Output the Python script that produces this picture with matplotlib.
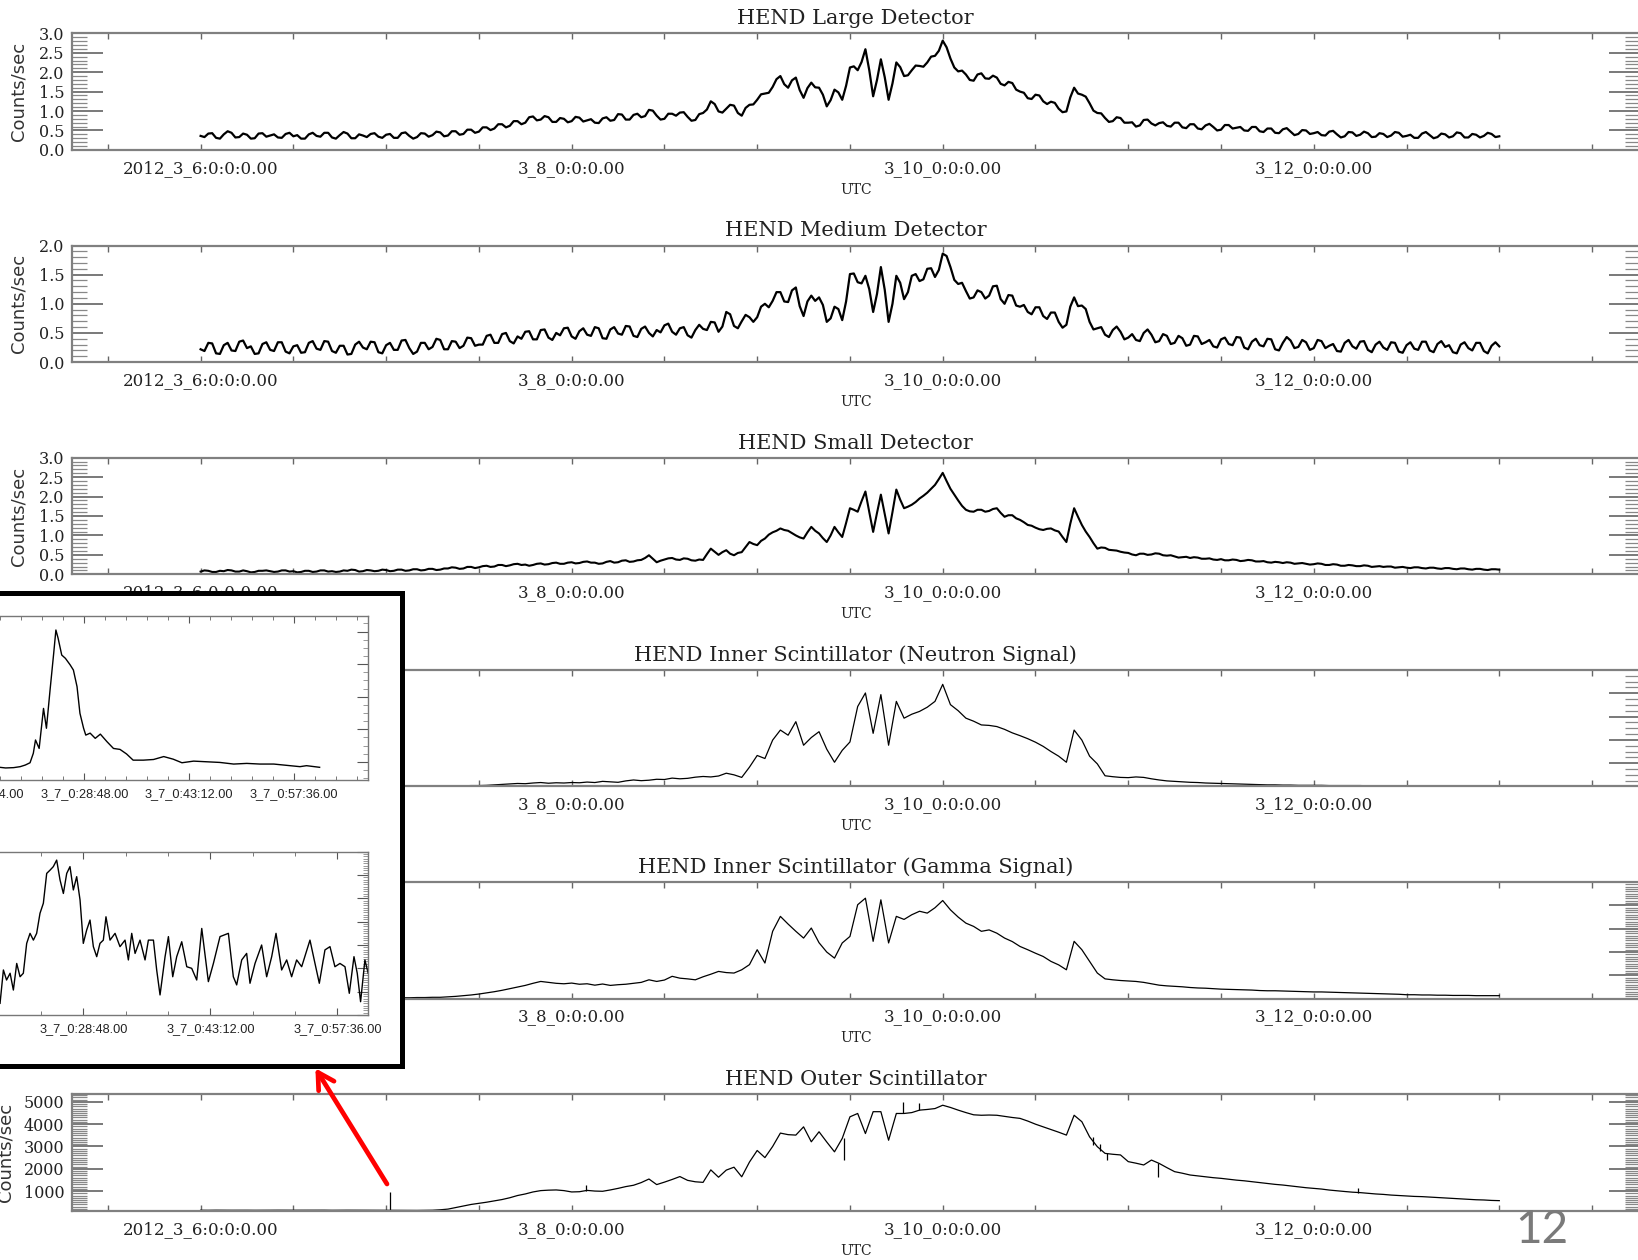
import numpy as np
import matplotlib
matplotlib.use("Agg")
import matplotlib.pyplot as plt
from matplotlib.ticker import MultipleLocator, FormatStrFormatter
from matplotlib.patches import FancyArrowPatch

# hours after 2012-03-06 00:00 UTC, one reading per hour (plus half-hour readings
# for the three noisy HEND detectors)
hours = np.arange(0, 169)

large = [0.36, 0.42, 0.31, 0.40, 0.44, 0.33, 0.39, 0.30, 0.43, 0.37, 0.32, 0.41,
         0.35, 0.29, 0.40, 0.36, 0.44, 0.32, 0.38, 0.42, 0.30, 0.37, 0.41, 0.34,
         0.39, 0.31, 0.43, 0.36, 0.33, 0.42, 0.38, 0.45, 0.37, 0.48, 0.41, 0.52,
         0.47, 0.58, 0.55, 0.66, 0.62, 0.74, 0.70, 0.86, 0.78, 0.84, 0.72, 0.80,
         0.74, 0.83, 0.76, 0.70, 0.81, 0.75, 0.92, 0.78, 0.90, 0.84, 1.03, 0.88,
         0.80, 0.93, 0.96, 0.85, 0.77, 0.95, 1.25, 0.99, 1.06, 1.14, 0.88, 1.16,
         1.29, 1.45, 1.62, 1.90, 1.60, 1.86, 1.34, 1.73, 1.60, 1.12, 1.55, 1.29,
         2.12, 2.05, 2.59, 1.38, 2.33, 1.29, 2.25, 1.90, 2.05, 2.16, 2.25, 2.42,
         2.81, 2.35, 2.02, 1.94, 1.78, 1.97, 1.83, 1.86, 1.66, 1.72, 1.50, 1.33,
         1.42, 1.25, 1.24, 1.06, 0.99, 1.60, 1.42, 1.20, 0.95, 0.82, 0.74, 0.82,
         0.70, 0.60, 0.77, 0.68, 0.69, 0.62, 0.70, 0.58, 0.66, 0.55, 0.63, 0.59,
         0.52, 0.64, 0.57, 0.50, 0.59, 0.48, 0.55, 0.44, 0.53, 0.47, 0.41, 0.50,
         0.43, 0.38, 0.47, 0.40, 0.35, 0.45, 0.39, 0.43, 0.34, 0.41, 0.37, 0.44,
         0.36, 0.31, 0.42, 0.38, 0.33, 0.40, 0.35, 0.43, 0.32, 0.39, 0.36, 0.41,
         0.35]
large_half = [0.33, 0.43, 0.29, 0.48, 0.32, 0.42, 0.29, 0.42, 0.34, 0.40, 0.31, 0.44,
              0.38, 0.29, 0.44, 0.34, 0.44, 0.29, 0.46, 0.30, 0.40, 0.33, 0.43, 0.31,
              0.41, 0.31, 0.45, 0.29, 0.43, 0.34, 0.47, 0.35, 0.48, 0.39, 0.52, 0.44,
              0.58, 0.51, 0.66, 0.58, 0.74, 0.66, 0.84, 0.76, 0.87, 0.72, 0.82, 0.71,
              0.85, 0.73, 0.79, 0.69, 0.84, 0.77, 0.91, 0.78, 0.93, 0.87, 1.01, 0.78,
              0.93, 0.88, 0.97, 0.75, 0.92, 1.04, 1.18, 0.96, 1.16, 0.95, 1.08, 1.17,
              1.43, 1.47, 1.82, 1.69, 1.79, 1.54, 1.59, 1.61, 1.42, 1.28, 1.48, 1.65,
              2.15, 2.26, 2.05, 1.80, 1.87, 1.71, 2.13, 1.92, 2.17, 2.14, 2.40, 2.55,
              2.64, 2.12, 2.04, 1.80, 1.94, 1.84, 1.91, 1.70, 1.75, 1.55, 1.47, 1.31,
              1.40, 1.18, 1.21, 0.97, 1.35, 1.45, 1.37, 1.01, 0.94, 0.72, 0.84, 0.70,
              0.71, 0.63, 0.78, 0.63, 0.71, 0.60, 0.70, 0.56, 0.66, 0.53, 0.67, 0.50,
              0.64, 0.55, 0.59, 0.49, 0.59, 0.46, 0.55, 0.43, 0.56, 0.38, 0.51, 0.41,
              0.46, 0.37, 0.49, 0.32, 0.46, 0.36, 0.47, 0.33, 0.43, 0.33, 0.46, 0.34,
              0.39, 0.31, 0.46, 0.30, 0.42, 0.32, 0.45, 0.32, 0.41, 0.32, 0.44, 0.33]

medium = [0.22, 0.33, 0.15, 0.29, 0.20, 0.35, 0.24, 0.14, 0.31, 0.21, 0.34, 0.18,
          0.27, 0.16, 0.33, 0.23, 0.36, 0.19, 0.28, 0.13, 0.30, 0.25, 0.35, 0.17,
          0.29, 0.21, 0.37, 0.24, 0.18, 0.33, 0.26, 0.38, 0.22, 0.35, 0.28, 0.41,
          0.30, 0.45, 0.33, 0.48, 0.36, 0.44, 0.52, 0.39, 0.55, 0.42, 0.50, 0.58,
          0.44, 0.53, 0.47, 0.60, 0.41, 0.56, 0.49, 0.62, 0.45, 0.57, 0.50, 0.55,
          0.63, 0.52, 0.58, 0.46, 0.55, 0.57, 0.69, 0.52, 0.86, 0.62, 0.70, 0.77,
          0.77, 1.00, 1.05, 1.20, 1.03, 1.28, 0.79, 1.14, 1.11, 0.69, 0.95, 0.72,
          1.51, 1.37, 1.48, 0.86, 1.63, 0.69, 1.48, 1.08, 1.48, 1.39, 1.60, 1.46,
          1.86, 1.63, 1.34, 1.22, 1.11, 1.20, 1.14, 1.31, 1.00, 1.14, 0.95, 0.86,
          0.94, 0.79, 0.85, 0.69, 0.64, 1.11, 0.97, 0.69, 0.58, 0.47, 0.55, 0.52,
          0.42, 0.38, 0.50, 0.47, 0.36, 0.45, 0.33, 0.41, 0.30, 0.44, 0.34, 0.27,
          0.39, 0.31, 0.43, 0.25, 0.35, 0.29, 0.40, 0.22, 0.33, 0.37, 0.26, 0.34,
          0.24, 0.36, 0.28, 0.19, 0.33, 0.27, 0.35, 0.21, 0.30, 0.25, 0.34, 0.18,
          0.29, 0.23, 0.35, 0.20, 0.31, 0.26, 0.17, 0.30, 0.24, 0.33, 0.19, 0.28,
          0.27]
medium_half = [0.19, 0.32, 0.14, 0.33, 0.19, 0.37, 0.27, 0.15, 0.34, 0.19, 0.34, 0.15,
               0.29, 0.17, 0.36, 0.21, 0.35, 0.16, 0.28, 0.14, 0.35, 0.22, 0.34, 0.15,
               0.33, 0.21, 0.38, 0.14, 0.33, 0.22, 0.40, 0.22, 0.36, 0.24, 0.42, 0.28,
               0.30, 0.47, 0.33, 0.50, 0.32, 0.40, 0.53, 0.39, 0.56, 0.38, 0.46, 0.59,
               0.40, 0.58, 0.45, 0.58, 0.40, 0.60, 0.47, 0.61, 0.43, 0.61, 0.44, 0.51,
               0.66, 0.47, 0.60, 0.42, 0.64, 0.55, 0.68, 0.61, 0.82, 0.58, 0.81, 0.69,
               0.95, 0.94, 1.20, 1.04, 1.23, 0.96, 1.04, 1.05, 0.98, 0.75, 0.91, 1.04,
               1.52, 1.35, 1.25, 1.17, 1.24, 1.00, 1.36, 1.20, 1.51, 1.42, 1.61, 1.58,
               1.82, 1.41, 1.36, 1.09, 1.23, 1.09, 1.30, 1.08, 1.15, 0.97, 0.98, 0.82,
               0.94, 0.74, 0.85, 0.59, 0.95, 0.96, 0.91, 0.56, 0.60, 0.43, 0.61, 0.39,
               0.48, 0.36, 0.56, 0.34, 0.48, 0.31, 0.45, 0.28, 0.45, 0.31, 0.38, 0.25,
               0.42, 0.29, 0.42, 0.22, 0.40, 0.27, 0.39, 0.20, 0.43, 0.24, 0.38, 0.21,
               0.38, 0.24, 0.31, 0.18, 0.38, 0.23, 0.36, 0.17, 0.35, 0.21, 0.33, 0.16,
               0.34, 0.21, 0.35, 0.17, 0.36, 0.29, 0.15, 0.34, 0.20, 0.33, 0.15, 0.34]

small = [0.07, 0.09, 0.06, 0.08, 0.10, 0.07, 0.08, 0.06, 0.09, 0.08, 0.07, 0.10,
         0.08, 0.06, 0.09, 0.07, 0.10, 0.08, 0.07, 0.09, 0.11, 0.08, 0.10, 0.09,
         0.11, 0.09, 0.12, 0.10, 0.13, 0.11, 0.14, 0.12, 0.15, 0.17, 0.15, 0.19,
         0.18, 0.22, 0.20, 0.24, 0.23, 0.27, 0.25, 0.24, 0.28, 0.26, 0.30, 0.27,
         0.31, 0.29, 0.33, 0.30, 0.28, 0.34, 0.31, 0.36, 0.33, 0.37, 0.49, 0.31,
         0.38, 0.42, 0.37, 0.40, 0.35, 0.37, 0.66, 0.50, 0.62, 0.49, 0.57, 0.83,
         0.75, 0.92, 1.08, 1.18, 1.12, 1.00, 0.92, 1.22, 1.05, 0.83, 1.22, 0.96,
         1.70, 1.61, 2.13, 1.09, 2.05, 1.05, 2.18, 1.70, 1.79, 1.95, 2.10, 2.30,
         2.61, 2.20, 1.90, 1.66, 1.61, 1.66, 1.63, 1.70, 1.48, 1.52, 1.40, 1.27,
         1.20, 1.14, 1.18, 1.10, 0.83, 1.70, 1.27, 0.96, 0.66, 0.68, 0.62, 0.58,
         0.55, 0.49, 0.53, 0.51, 0.53, 0.48, 0.46, 0.44, 0.42, 0.43, 0.40, 0.38,
         0.39, 0.36, 0.37, 0.35, 0.36, 0.33, 0.31, 0.32, 0.29, 0.30, 0.28, 0.27,
         0.26, 0.27, 0.24, 0.25, 0.22, 0.23, 0.21, 0.22, 0.20, 0.19, 0.20, 0.18,
         0.17, 0.18, 0.16, 0.17, 0.15, 0.16, 0.14, 0.15, 0.13, 0.14, 0.12, 0.13,
         0.12]
small_half = [0.10, 0.06, 0.09, 0.11, 0.07, 0.10, 0.05, 0.09, 0.10, 0.06, 0.10, 0.07,
              0.05, 0.09, 0.06, 0.10, 0.07, 0.06, 0.10, 0.12, 0.07, 0.11, 0.08, 0.12,
              0.08, 0.12, 0.09, 0.13, 0.10, 0.14, 0.11, 0.15, 0.18, 0.14, 0.19, 0.16,
              0.21, 0.19, 0.24, 0.21, 0.26, 0.24, 0.22, 0.27, 0.25, 0.29, 0.27, 0.30,
              0.28, 0.32, 0.30, 0.27, 0.32, 0.30, 0.35, 0.32, 0.36, 0.42, 0.40, 0.35,
              0.41, 0.38, 0.41, 0.36, 0.38, 0.52, 0.58, 0.57, 0.53, 0.55, 0.70, 0.78,
              0.86, 1.02, 1.12, 1.14, 1.06, 0.95, 1.08, 1.12, 0.93, 1.00, 1.08, 1.32,
              1.66, 1.88, 1.60, 1.58, 1.55, 1.60, 1.92, 1.74, 1.86, 2.02, 2.20, 2.45,
              2.40, 2.05, 1.76, 1.62, 1.66, 1.61, 1.68, 1.58, 1.52, 1.44, 1.34, 1.25,
              1.16, 1.17, 1.13, 0.96, 1.30, 1.48, 1.10, 0.80, 0.69, 0.63, 0.61, 0.56,
              0.51, 0.53, 0.50, 0.54, 0.49, 0.49, 0.43, 0.45, 0.44, 0.40, 0.41, 0.37,
              0.36, 0.38, 0.34, 0.37, 0.33, 0.34, 0.30, 0.31, 0.31, 0.27, 0.29, 0.25,
              0.28, 0.24, 0.26, 0.22, 0.24, 0.21, 0.23, 0.19, 0.21, 0.20, 0.17, 0.19,
              0.16, 0.18, 0.15, 0.17, 0.14, 0.16, 0.13, 0.15, 0.12, 0.14, 0.11, 0.13]

neutron = [0.00, 0.00, 0.00, 0.00, 0.00, 0.00, 0.00, 0.00, 0.00, 0.00, 0.00, 0.00,
           0.00, 0.00, 0.00, 0.00, 0.00, 0.00, 0.00, 0.00, 0.00, 0.00, 0.00, 0.00,
           0.00, 0.00, 0.01, 0.01, 0.01, 0.02, 0.02, 0.02, 0.03, 0.02, 0.03, 0.04,
           0.04, 0.05, 0.07, 0.09, 0.11, 0.13, 0.12, 0.15, 0.17, 0.14, 0.16, 0.15,
           0.17, 0.16, 0.19, 0.17, 0.22, 0.20, 0.18, 0.24, 0.28, 0.25, 0.27, 0.31,
           0.30, 0.36, 0.33, 0.35, 0.40, 0.43, 0.41, 0.45, 0.57, 0.50, 0.39, 0.83,
           1.33, 1.20, 1.99, 2.42, 2.20, 2.78, 1.77, 2.10, 2.35, 1.60, 1.04, 1.55,
           1.91, 3.43, 4.01, 2.28, 3.94, 1.77, 3.65, 2.93, 3.10, 3.22, 3.40, 3.65,
           4.38, 3.51, 3.25, 2.93, 2.80, 2.64, 2.62, 2.57, 2.45, 2.30, 2.18, 2.05,
           1.90, 1.72, 1.50, 1.30, 1.04, 2.42, 1.99, 1.30, 0.97, 0.46, 0.42, 0.39,
           0.38, 0.41, 0.39, 0.33, 0.28, 0.24, 0.22, 0.20, 0.18, 0.17, 0.15, 0.14,
           0.13, 0.12, 0.11, 0.10, 0.09, 0.08, 0.07, 0.07, 0.06, 0.06, 0.05, 0.05,
           0.05, 0.05, 0.04, 0.04, 0.04, 0.04, 0.04, 0.03, 0.03, 0.03, 0.03, 0.03,
           0.03, 0.03, 0.02, 0.02, 0.02, 0.02, 0.02, 0.01, 0.01, 0.01, 0.01, 0.01,
           0.01]

gamma = [0.03, 0.03, 0.03, 0.03, 0.03, 0.03, 0.03, 0.03, 0.03, 0.03, 0.03, 0.03,
         0.03, 0.03, 0.03, 0.03, 0.03, 0.03, 0.03, 0.03, 0.03, 0.03, 0.03, 0.03,
         0.03, 0.03, 0.04, 0.04, 0.05, 0.05, 0.06, 0.06, 0.08, 0.10, 0.13, 0.16,
         0.20, 0.25, 0.30, 0.36, 0.43, 0.50, 0.57, 0.66, 0.74, 0.70, 0.66, 0.64,
         0.67, 0.62, 0.64, 0.58, 0.63, 0.57, 0.60, 0.62, 0.66, 0.70, 0.81, 0.74,
         0.80, 0.96, 0.88, 0.85, 0.81, 0.94, 1.05, 1.17, 1.12, 1.10, 1.24, 1.46,
         2.10, 1.53, 2.89, 3.53, 3.20, 2.89, 2.60, 3.03, 2.40, 2.00, 1.74, 2.39,
         2.67, 4.03, 4.31, 2.46, 4.24, 2.39, 3.53, 3.40, 3.60, 3.75, 3.67, 3.90,
         4.21, 3.81, 3.50, 3.24, 3.10, 2.89, 2.95, 2.81, 2.60, 2.45, 2.24, 2.10,
         1.95, 1.81, 1.60, 1.45, 1.24, 2.46, 2.10, 1.60, 1.10, 0.85, 0.81, 0.78,
         0.76, 0.74, 0.70, 0.64, 0.58, 0.55, 0.53, 0.51, 0.48, 0.46, 0.45, 0.43,
         0.41, 0.40, 0.39, 0.38, 0.37, 0.35, 0.34, 0.34, 0.33, 0.32, 0.31, 0.30,
         0.29, 0.29, 0.28, 0.27, 0.26, 0.25, 0.24, 0.23, 0.22, 0.21, 0.20, 0.19,
         0.17, 0.17, 0.16, 0.16, 0.15, 0.15, 0.14, 0.14, 0.14, 0.13, 0.13, 0.13,
         0.13]

outer = [140, 138, 142, 140, 139, 141, 140, 138, 141, 140, 142, 139,
         140, 141, 139, 140, 142, 138, 140, 141, 139, 140, 141, 138,
         136, 130, 128, 130, 132, 135, 140, 160, 190, 260, 330, 400,
         450, 500, 560, 620, 700, 800, 870, 960, 1020, 1040, 1050, 1020,
         960, 970, 1030, 1000, 990, 1050, 1120, 1200, 1260, 1380, 1540, 1290,
         1400, 1520, 1650, 1480, 1416, 1390, 1950, 1620, 1940, 2070, 1640, 2300,
         2820, 2500, 3000, 3600, 3530, 3510, 3880, 3210, 3660, 3200, 2760, 3360,
         4330, 4480, 3580, 4560, 4560, 3280, 4480, 4480, 4520, 4630, 4660, 4700,
         4850, 4750, 4630, 4520, 4420, 4400, 4410, 4400, 4350, 4300, 4260, 4140,
         4000, 3880, 3760, 3640, 3510, 4400, 4110, 3430, 2990, 2690, 2650, 2620,
         2320, 2250, 2170, 2390, 2240, 2050, 1870, 1800, 1720, 1680, 1640, 1600,
         1570, 1530, 1490, 1460, 1420, 1380, 1340, 1300, 1270, 1230, 1190, 1150,
         1120, 1090, 1045, 1010, 980, 950, 930, 900, 870, 850, 820, 800,
         780, 760, 750, 730, 710, 690, 670, 650, 630, 610, 600, 580,
         570]

# single-sample spikes in the outer scintillator (hour, from, to)
spike_hour = [24.5, 49.8, 83.2, 90.9, 92.9, 115.4, 116.3, 117.3, 123.8, 149.7]
spike_from = [135, 990, 2390, 4480, 4620, 3050, 2800, 2400, 1640, 930]
spike_to = [970, 1250, 3360, 4980, 4950, 3430, 3100, 2700, 2240, 1120]

# zoom on the 3_7 00:00-01:00 event (minutes after 3_7 00:00)
zoomA_min = [14.0, 15.0, 16.0, 17.2, 18.0, 19.1, 20.0, 20.7, 21.35, 21.8,
             22.1, 22.6, 23.2, 23.6, 24.1, 24.6, 24.9, 25.2, 25.7, 26.2,
             26.85, 27.3, 27.8, 28.2, 28.7, 29.0, 29.6, 30.3, 31.0, 31.9,
             32.8, 33.7, 34.6, 35.5, 36.9, 38.3, 39.7, 41.0, 42.2, 43.8,
             45.6, 47.4, 49.3, 51.1, 52.9, 54.8, 56.6, 58.4, 59.3, 61.1]
zoomA_val = [0.84, 0.82, 0.85, 0.83, 0.81, 0.82, 0.85, 0.90, 0.97, 1.26,
             1.67, 1.41, 2.64, 2.03, 3.21, 4.34, 5.05, 4.80, 4.28, 4.18,
             3.98, 3.82, 3.31, 2.49, 2.03, 1.82, 1.88, 1.72, 1.85, 1.62,
             1.41, 1.38, 1.24, 1.05, 1.05, 1.07, 1.16, 1.08, 0.97, 1.02,
             1.00, 0.98, 0.93, 0.95, 0.93, 0.93, 0.89, 0.85, 0.88, 0.83]

zoomB_min = [19.36, 19.74, 20.1, 20.5, 20.87, 21.25, 21.63, 22.0, 22.38, 22.76,
             23.14, 23.51, 23.89, 24.27, 24.65, 25.03, 25.4, 25.78, 26.16, 26.54,
             26.92, 27.29, 27.67, 28.05, 28.43, 28.8, 29.18, 29.56, 29.94, 30.32,
             30.69, 31.07, 31.37, 31.83, 32.4, 32.96, 33.53, 33.91, 34.29, 34.67,
             35.23, 35.8, 36.18, 36.75, 37.12, 37.5, 38.07, 38.45, 38.94, 39.39,
             39.96, 40.53, 41.09, 41.66, 42.23, 42.98, 43.55, 44.3, 45.25, 45.81,
             46.19, 46.76, 47.32, 47.7, 48.27, 49.02, 49.59, 50.16, 50.65, 51.29,
             51.86, 52.42, 52.99, 53.56, 54.5, 55.07, 55.56, 56.2, 56.77, 57.33,
             57.9, 58.47, 58.96, 59.49, 59.86, 60.24, 60.73, 61.1]
zoomB_val = [0.50, 1.93, 1.50, 1.79, 1.07, 2.21, 1.64, 1.79, 3.07, 3.50,
             3.21, 3.50, 4.36, 4.79, 6.07, 6.21, 6.36, 6.64, 5.79, 5.21,
             6.07, 6.36, 5.36, 5.93, 4.93, 3.07, 3.64, 4.07, 2.93, 2.50,
             3.07, 3.21, 4.21, 3.21, 3.50, 2.93, 3.21, 2.36, 3.50, 2.64,
             3.21, 2.36, 3.21, 3.21, 1.93, 0.86, 2.50, 3.36, 1.64, 2.50,
             3.14, 2.07, 2.00, 1.50, 3.71, 1.43, 2.21, 3.36, 3.50, 1.64,
             1.29, 2.36, 2.64, 1.36, 2.21, 3.00, 1.64, 2.50, 3.50, 1.93,
             2.36, 1.64, 2.36, 2.07, 3.21, 2.21, 1.36, 2.79, 2.93, 2.07,
             2.21, 2.07, 0.93, 2.50, 1.79, 0.57, 2.36, 1.79]

titles = ["HEND Large Detector", "HEND Medium Detector", "HEND Small Detector",
          "HEND Inner Scintillator (Neutron Signal)",
          "HEND Inner Scintillator (Gamma Signal)", "HEND Outer Scintillator"]
day_ticks = [0, 48, 96, 144]
day_labels = ["2012_3_6:0:0:0.00", "3_8_0:0:0.00", "3_10_0:0:0.00", "3_12_0:0:0.00"]
zoom_ticks = [14.4, 28.8, 43.2, 57.6]
zoom_labels = ["3_7_0:14:24.00", "3_7_0:28:48.00", "3_7_0:43:12.00", "3_7_0:57:36.00"]


def with_half(full, half):  # merge hourly and half-hour readings in time order
    t = np.arange(0, len(full) - 0.5, 0.5)
    v = np.empty(len(t))
    v[0::2] = full
    v[1::2] = half
    return t, v


plt.rcParams['font.family'] = ['DejaVu Serif']

W, H = 1638, 1260
fig = plt.figure(figsize=(W / 100, H / 100), dpi=100)
fig.patch.set_facecolor('white')


def frame(l, t, r, b):  # pixel box -> figure fraction
    return [l / W, 1 - b / H, (r - l) / W, (b - t) / H]


# (times, values), ylim, major, minor, format, line width
panels = [(with_half(large, large_half), (0, 3), 0.5, 0.1, "%.1f", 1.6),
          (with_half(medium, medium_half), (0, 2), 0.5, 0.1, "%.1f", 1.6),
          (with_half(small, small_half), (0, 3), 0.5, 0.1, "%.1f", 1.5),
          ((hours, neutron), (0, 5), 1, 0.25, "%d", 0.9),
          ((hours, gamma), (0, 5), 1, 0.1, "%d", 0.9),
          ((hours, outer), (110, 5340), 1000, 100, "%d", 0.9)]
covered = [3, 4]  # panels whose left side sits under the inset box

axes = []
for i, ((tx, ser), yl, maj, mnr, fmt, lw) in enumerate(panels):
    top = 33.3 + 212.2 * i
    ax = fig.add_axes(frame(71.5, top, 1640, top + 116.6))
    ax.plot(tx, ser, color='black', lw=lw)
    ax.set_xlim(-16.7, 186.2)
    ax.set_ylim(*yl)
    if i in covered:
        ax.set_xticks(day_ticks, [""] + day_labels[1:])
    else:
        ax.set_xticks(day_ticks, day_labels)
    ax.xaxis.set_minor_locator(MultipleLocator(12))
    ax.yaxis.set_major_locator(MultipleLocator(maj))
    ax.yaxis.set_minor_locator(MultipleLocator(mnr))
    ax.yaxis.set_major_formatter(FormatStrFormatter(fmt))
    ax.tick_params(axis='x', which='both', direction='in', top=True, bottom=True,
                   length=4, width=1, color='#666666', labelsize=12, pad=7,
                   labelcolor='#222222')
    ax.tick_params(axis='y', which='major', direction='in', left=True, right=True,
                   length=22, width=1.1, color='#555555', labelsize=11.5, pad=5,
                   labelcolor='#222222', labelleft=i not in covered)
    ax.tick_params(axis='y', which='minor', direction='in', left=True, right=True,
                   length=11, width=0.9, color='#888888')
    for s in ax.spines.values():
        s.set_color('#808080')
        s.set_linewidth(1.6)
    ax.annotate(titles[i], xy=(0.5, 1), xycoords='axes fraction', xytext=(0, 10.5),
                textcoords='offset points', ha='center', va='center', fontsize=15,
                color='#222222')
    ax.annotate("UTC", xy=(0.5, 0), xycoords='axes fraction', xytext=(0, -28.6),
                textcoords='offset points', ha='center', va='center', fontsize=10,
                color='#222222')
    if i not in covered:
        lx = -0.0335 if i < 5 else -0.0418
        ax.text(lx, 0.5, "Counts/sec", transform=ax.transAxes, rotation=90,
                ha='center', va='center', fontsize=13, family='DejaVu Sans',
                color='#333333')
    axes.append(ax)

axes[5].vlines(spike_hour, spike_from, spike_to, color='black', lw=0.9)

# inset box with the zoomed event
bx = fig.add_axes(frame(-30, 592.5, 401.8, 1065.8), zorder=5)
bx.set_facecolor('white')
bx.set_xticks([])
bx.set_yticks([])
for s in bx.spines.values():
    s.set_color('black')
    s.set_linewidth(3.6)

insets = [(zoomA_min, zoomA_val, frame(-125.5, 616, 368, 780), (0, 67.74),
           (0.44, 5.48), 0.25, 2.88),
          (zoomB_min, zoomB_val, frame(-170.7, 851.7, 368, 1015), (0, 61.08),
           (0, 7), 0.1, 4.8)]
for mins, vals, pos, xl, yl, ymn, xmn in insets:
    ia = fig.add_axes(pos, zorder=6)
    ia.plot(mins, vals, color='black', lw=1.0)
    ia.set_xlim(*xl)
    ia.set_ylim(*yl)
    ia.set_xticks(zoom_ticks, zoom_labels)
    ia.xaxis.set_minor_locator(MultipleLocator(xmn))
    ia.yaxis.set_major_locator(MultipleLocator(1))
    ia.yaxis.set_minor_locator(MultipleLocator(ymn))
    ia.tick_params(axis='x', which='major', direction='in', top=True, bottom=True,
                   length=5, width=0.8, color='#555555', pad=6)
    ia.tick_params(axis='x', which='minor', direction='in', top=True, bottom=True,
                   length=3, width=0.7, color='#777777')
    ia.tick_params(axis='y', which='major', direction='in', left=True, right=True,
                   length=8, width=0.8, color='#555555', labelleft=False)
    ia.tick_params(axis='y', which='minor', direction='in', left=True, right=True,
                   length=3.6, width=0.6, color='#888888')
    for lab in ia.get_xticklabels():
        lab.set_family('Liberation Sans')
        lab.set_fontsize(9.2)
        lab.set_color('#222222')
    for s in ia.spines.values():
        s.set_color('#777777')
        s.set_linewidth(1.0)

arrow = FancyArrowPatch((387 / W, 1 - 1184 / H), (315.4 / W, 1 - 1068.3 / H),
                        transform=fig.transFigure,
                        arrowstyle='->,head_length=1.15,head_width=0.65',
                        mutation_scale=10, color='#ff0000', lw=3.4,
                        shrinkA=0, shrinkB=0, zorder=20)
fig.add_artist(arrow)

fig.text(1541.5 / W, 1 - 1230 / H, "12", ha='center', va='center', fontsize=33,
         color='#7a7a7a', family=['Lato', 'DejaVu Sans'])

fig.savefig("out.png", dpi=100)
